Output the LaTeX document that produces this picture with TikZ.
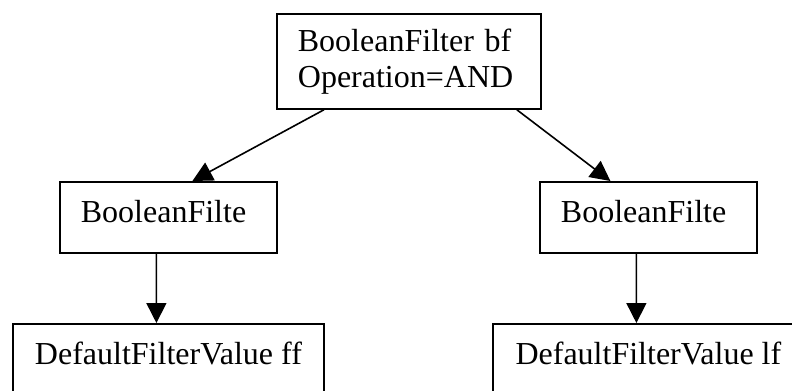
\documentclass[tikz,border=0pt]{standalone}
\usepackage{fontspec}
\setmainfont{Liberation Serif}
\usetikzlibrary{arrows.meta}

\begin{document}
\begin{tikzpicture}[x=1bp,y=-1bp,
  box/.style={draw,line width=1.8bp,rectangle,anchor=north west,inner xsep=21bp,
    inner ysep=0pt,align=left,font=\fontsize{32bp}{36bp}\selectfont},
  oneline/.style={box,text height=41bp,text depth=30bp},
  link/.style={line width=1.6bp,-{Triangle[length=20bp,width=20bp]}}]
  \clip (0,0) rectangle (792,390);

  \node[box,minimum width=264bp,minimum height=95bp,text width=222bp] (bf) at (276,13)
    {BooleanFilter bf\\Operation=AND};
  \node[oneline,text width=175bp] (left) at (59,181) {BooleanFilte};
  \node[oneline,text width=175bp] (right) at (539,181) {BooleanFilte};
  \node[oneline,minimum width=311bp] (ff) at (12,323) {DefaultFilterValue ff};
  \node[oneline,minimum width=311bp] (lf) at (492,323) {DefaultFilterValue lf};

  \draw[link] ([xshift=-85bp]bf.south) -- ([xshift=24bp]left.north);
  \draw[link] ([xshift=108bp]bf.south) -- ([xshift=-38bp]right.north);
  \draw[link] ([xshift=-12bp]left.south) -- ([xshift=-12bp]ff.north);
  \draw[link] ([xshift=-12bp]right.south) -- ([xshift=-12bp]lf.north);
\end{tikzpicture}
\end{document}
